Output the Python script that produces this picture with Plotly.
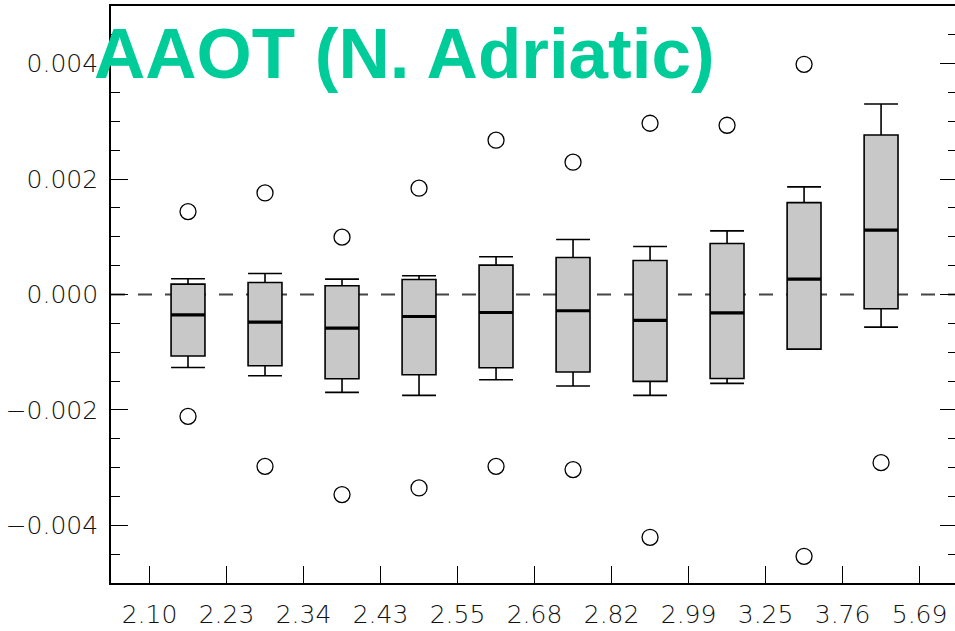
import plotly.graph_objects as go

# ---- data ----
x_tick_labels = ["2.10", "2.23", "2.34", "2.43", "2.55", "2.68", "2.82", "2.99", "3.25", "3.76", "5.69"]
box_pos = [0.5, 1.5, 2.5, 3.5, 4.5, 5.5, 6.5, 7.5, 8.5, 9.5]
upper_fence = [0.000272, 0.000364, 0.000266, 0.000324, 0.000653, 0.000952, 0.000831, 0.001103, 0.001865, 0.003302]
q3 = [0.000180, 0.000208, 0.000151, 0.000260, 0.000509, 0.000641, 0.000589, 0.000883, 0.001593, 0.002765]
median = [-0.000352, -0.000478, -0.000582, -0.000381, -0.000312, -0.000282, -0.000450, -0.000317, 0.000266, 0.001115]
q1 = [-0.001067, -0.001235, -0.001460, -0.001390, -0.001269, -0.001344, -0.001506, -0.001455, -0.000946, -0.000248]
lower_fence = [-0.001264, -0.001408, -0.001697, -0.001749, -0.001477, -0.001586, -0.001749, -0.001541, -0.000946, -0.000565]
outlier_x = [0.5, 0.5, 1.5, 1.5, 2.5, 2.5, 3.5, 3.5, 4.5, 4.5, 5.5, 5.5, 6.5, 6.5, 7.5, 8.5, 8.5, 9.5]
outlier_y = [0.001437, -0.002113, 0.001760, -0.002978, 0.000994, -0.003468, 0.001842, -0.003353,
             0.002674, -0.002978, 0.002293, -0.003035, 0.002968, -0.004208, 0.002933, 0.003990, -0.004537, -0.002914]
y_tick_vals = [-0.004, -0.002, 0.0, 0.002, 0.004]
y_tick_text = ["\u22120.004", "\u22120.002", "0.000", "0.002", "0.004"]
title_text = "AAOT (N. Adriatic)"

BOX_W = 0.44
Y_RANGE = [-0.005, 0.005]
tick_font = dict(family="DejaVu Sans", size=25, color="#111111", weight=200)

fig = go.Figure()

fig.add_trace(go.Box(
    x=box_pos, q1=q1, median=median, q3=q3,
    lowerfence=lower_fence, upperfence=upper_fence,
    width=BOX_W, whiskerwidth=1, boxpoints=False,
    fillcolor="#C8C8C8", line=dict(color="black", width=1.6),
    showlegend=False, hoverinfo="skip",
))

# thicker median lines
mx, my = [], []
for c, m in zip(box_pos, median):
    mx += [c - BOX_W / 2, c + BOX_W / 2, None]
    my += [m, m, None]
fig.add_trace(go.Scatter(x=mx, y=my, mode="lines", line=dict(color="black", width=3.2),
                         showlegend=False, hoverinfo="skip"))

# outliers (on the mirrored right-hand axis, same range)
fig.add_trace(go.Scatter(
    x=outlier_x, y=outlier_y, mode="markers", yaxis="y2",
    marker=dict(symbol="circle-open", size=16, color="black", line=dict(width=1.3)),
    showlegend=False, hoverinfo="skip",
))

fig.add_shape(type="line", xref="paper", yref="y", x0=0, x1=1, y0=0, y1=0,
              line=dict(color="#444444", width=2, dash="14px,13px"), layer="below")

fig.add_annotation(text=title_text, xref="paper", yref="paper",
                   x=-0.0225, y=0.917, xanchor="left", yanchor="middle", showarrow=False,
                   font=dict(family="Liberation Sans, Arial", size=71, color="#00CC99", weight="bold"))

fig.update_xaxes(
    range=[-0.5, 10.46], tickvals=list(range(len(x_tick_labels))), ticktext=x_tick_labels,
    ticks="inside", ticklen=17, tickwidth=1.3, tickcolor="black",
    showline=True, linecolor="black", linewidth=1.6, mirror=True,
    showgrid=False, zeroline=False, tickfont=tick_font, ticklabelstandoff=8,
)
fig.update_layout(
    yaxis=dict(
        range=Y_RANGE, tickvals=y_tick_vals, ticktext=y_tick_text,
        ticks="inside", ticklen=17, tickwidth=1.3, tickcolor="black",
        minor=dict(dtick=0.0005, ticks="inside", ticklen=9, tickwidth=1.3, tickcolor="black"),
        showline=True, linecolor="black", linewidth=1.6, mirror=False,
        showgrid=False, zeroline=False, tickfont=tick_font, ticklabelstandoff=6,
    ),
    yaxis2=dict(
        overlaying="y", side="right", range=Y_RANGE, tickvals=y_tick_vals,
        showticklabels=False, ticks="inside", ticklen=15, tickwidth=1.3, tickcolor="black",
        minor=dict(dtick=0.0005, ticks="inside", ticklen=7, tickwidth=1.3, tickcolor="black"),
        showline=False, showgrid=False, zeroline=False,
    ),
    width=955, height=631,
    margin=dict(l=111, r=0, t=6, b=48),
    plot_bgcolor="white", paper_bgcolor="white",
)

fig.write_html("out.html")
